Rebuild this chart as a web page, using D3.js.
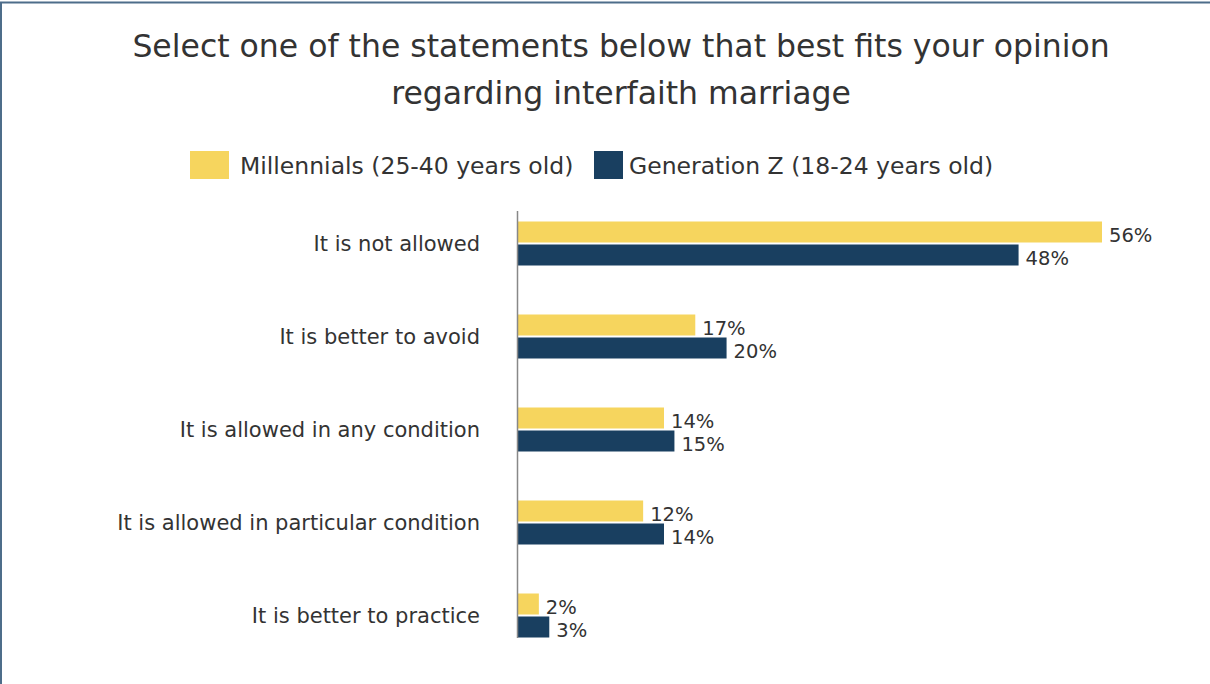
<!DOCTYPE html>
<html>
<head>
<meta charset="utf-8">
<script src="https://cdn.jsdelivr.net/npm/d3@7"></script>
<style>
  html, body { margin: 0; padding: 0; background: #fff; }
  svg { display: block; }
  text { font-family: "DejaVu Sans", sans-serif; fill: #333; }
</style>
</head>
<body>
<svg id="chart" width="1210" height="684"></svg>
<script>
// Survey answers and the share of each generation choosing them (%)
const categories = [
  "It is not allowed",
  "It is better to avoid",
  "It is allowed in any condition",
  "It is allowed in particular condition",
  "It is better to practice"
];
const millennials = [56, 17, 14, 12, 2];
const genZ = [48, 20, 15, 14, 3];
const seriesNames = ["Millennials (25-40 years old)", "Generation Z (18-24 years old)"];
const seriesColors = ["#F6D55E", "#193F60"];
const titleLines = [
  "Select one of the statements below that best fits your opinion",
  "regarding interfaith marriage"
];

const svg = d3.select("#chart");
const W = 1210, H = 684;

// frame
svg.append("path")
  .attr("d", `M1,${H} V2.5 H${W}`)
  .attr("fill", "none")
  .attr("stroke", "#4d6d8a")
  .attr("stroke-width", 2);

// title
svg.append("g").selectAll("text")
  .data(titleLines)
  .join("text")
  .attr("x", 621)
  .attr("y", (d, i) => 57 + i * 47)
  .attr("text-anchor", "middle")
  .style("font-size", "31.5px")
  .text(d => d);

// legend
const legend = svg.append("g");
const legendItems = [
  { x: 190, w: 39, tx: 240 },
  { x: 594, w: 29, tx: 629 }
];
legendItems.forEach((it, i) => {
  legend.append("rect")
    .attr("x", it.x).attr("y", 151)
    .attr("width", it.w).attr("height", 28)
    .attr("fill", seriesColors[i]);
  legend.append("text")
    .attr("x", it.tx).attr("y", 174)
    .style("font-size", "23.5px")
    .text(seriesNames[i]);
});

// scales
const x = d3.scaleLinear().domain([0, 56]).range([518, 1102]);
const y = d3.scaleBand().domain(categories).range([197, 662]);
const barH = 21, gap = 2;

const rows = categories.map((c, i) => ({ c, v: [millennials[i], genZ[i]] }));

const g = svg.append("g");
const row = g.selectAll("g.row").data(rows).join("g")
  .attr("class", "row")
  .attr("transform", d => `translate(0,${y(d.c) + y.bandwidth() / 2})`);

row.selectAll("rect")
  .data(d => d.v)
  .join("rect")
  .attr("x", x(0))
  .attr("y", (d, i) => i === 0 ? -barH - gap / 2 : gap / 2)
  .attr("width", d => x(d) - x(0))
  .attr("height", barH)
  .attr("fill", (d, i) => seriesColors[i]);

row.selectAll("text.val")
  .data(d => d.v)
  .join("text")
  .attr("class", "val")
  .attr("x", d => x(d) + 7)
  .attr("y", (d, i) => (i === 0 ? -barH / 2 - gap / 2 : barH / 2 + gap / 2) + 10)
  .style("font-size", "19.5px")
  .text(d => d + "%");

// category axis
const axis = d3.axisLeft(y).tickSize(0).tickPadding(38);
const ax = svg.append("g")
  .attr("transform", `translate(${x(0)},0)`)
  .call(axis);
ax.select(".domain").remove();
ax.selectAll("text")
  .style("font-size", "21px")
  .style("font-family", "DejaVu Sans, sans-serif")
  .attr("fill", "#333")
  .attr("dy", "0.36em");

svg.append("line")
  .attr("x1", 517.5).attr("x2", 517.5)
  .attr("y1", 211).attr("y2", 638)
  .attr("stroke", "#888")
  .attr("stroke-width", 1.5);
</script>
</body>
</html>
